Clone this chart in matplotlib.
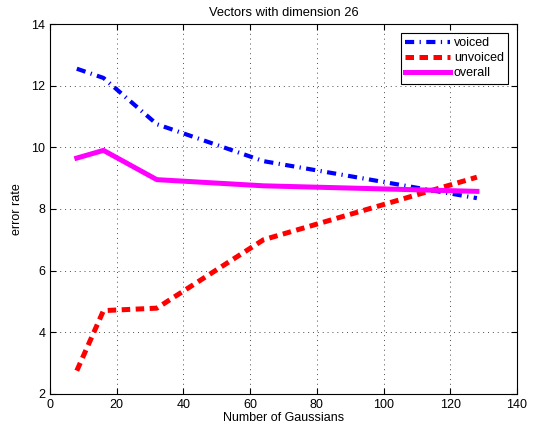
import matplotlib
matplotlib.use('Agg')
import matplotlib.pyplot as plt

plt.rcParams['font.family'] = ['Liberation Sans', 'DejaVu Sans']

gaussians = [8, 16, 32, 64, 128]
voiced = [12.55, 12.25, 10.75, 9.55, 8.35]
unvoiced = [2.75, 4.7, 4.78, 7.0, 9.03]
overall = [9.65, 9.9, 8.95, 8.75, 8.57]

fig = plt.figure(figsize=(5.39, 4.29), dpi=100)
ax = fig.add_axes([0.093, 0.082, 0.866, 0.862])

ax.plot(gaussians, voiced, color='blue', lw=3, dashes=(2.2, 1.3, 0.3, 1.3),
        dash_capstyle='butt', label='voiced')
ax.plot(gaussians, unvoiced, color='red', lw=3.6, dashes=(1.7, 1.1),
        dash_capstyle='butt', label='unvoiced')
ax.plot(gaussians, overall, color='magenta', lw=3.6, label='overall')

ax.set_xlim(0, 140)
ax.set_ylim(2, 14)
ax.set_xticks(range(0, 141, 20))
ax.set_yticks(range(2, 15, 2))
ax.grid(True, linestyle=(0, (1, 4)), color='0.3', lw=0.7)
ax.tick_params(direction='in', top=True, right=True, labelsize=9, length=4)
for s in ax.spines.values():
    s.set_linewidth(0.8)

ax.set_xlabel('Number of Gaussians', fontsize=9, labelpad=1)
ax.set_ylabel('error rate', fontsize=9, labelpad=6)
ax.set_title('Vectors with dimension 26', fontsize=9.3, pad=6)

leg = ax.legend(loc='upper right', fontsize=9, fancybox=False, framealpha=1,
                edgecolor='black', borderaxespad=0.7, handlelength=3.6,
                labelspacing=0.25, handletextpad=0.3, borderpad=0.35)
leg.get_frame().set_linewidth(0.8)

fig.savefig('out.png', dpi=100)
